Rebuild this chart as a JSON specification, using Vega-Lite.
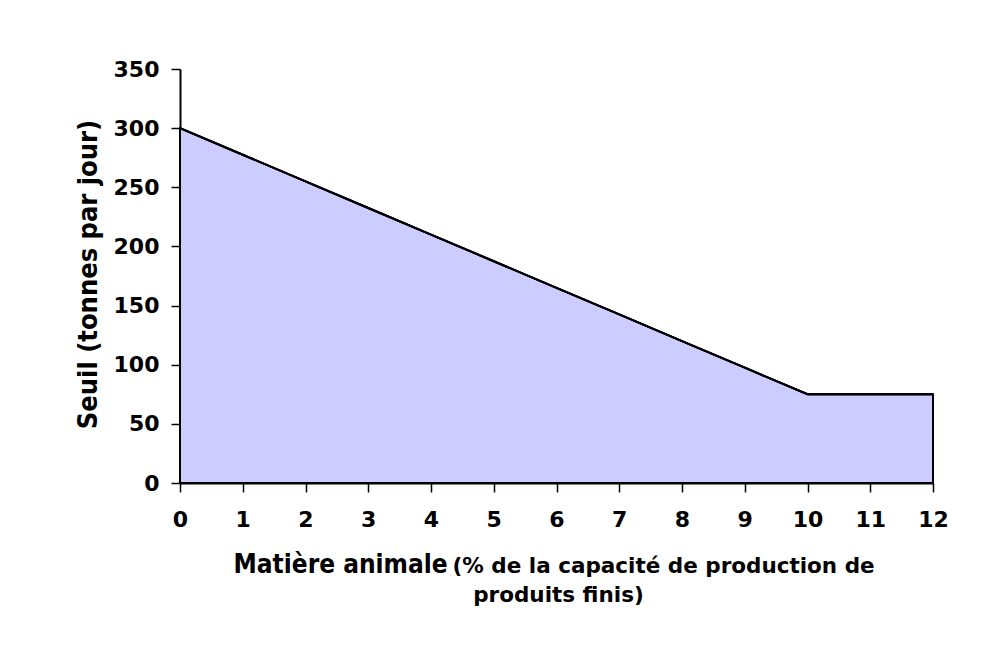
{
  "$schema": "https://vega.github.io/schema/vega-lite/v6.json",
  "width": 753,
  "height": 414,
  "autosize": {"type": "none"},
  "padding": {"left": 180, "top": 69, "right": 56, "bottom": 167},
  "background": "white",
  "config": {
    "font": "DejaVu Sans",
    "view": {"stroke": null},
    "axis": {"grid": false, "labelFontWeight": "bold", "titleFontWeight": "bold", "labelColor": "black", "titleColor": "black", "domainColor": "black", "tickColor": "black"}
  },
  "data": {
    "values": [
      {"x": 0, "y": 300}, {"x": 1, "y": 277.5}, {"x": 2, "y": 255}, {"x": 3, "y": 232.5},
      {"x": 4, "y": 210}, {"x": 5, "y": 187.5}, {"x": 6, "y": 165}, {"x": 7, "y": 142.5},
      {"x": 8, "y": 120}, {"x": 9, "y": 97.5}, {"x": 10, "y": 75}, {"x": 11, "y": 75}, {"x": 12, "y": 75}
    ]
  },
  "resolve": {"scale": {"x": "independent"}, "axis": {"x": "independent"}},
  "layer": [
    {
      "mark": {"type": "area", "fill": "#CCCCFF", "stroke": "black", "strokeWidth": 2, "fillOpacity": 1},
      "encoding": {
        "x": {"field": "x", "type": "quantitative", "scale": {"domain": [0, 12], "nice": false},
          "axis": {"orient": "bottom", "values": [0,1,2,3,4,5,6,7,8,9,10,11,12], "tickSize": 9, "tickWidth": 1.5, "domainWidth": 2,
            "labelFontSize": 22, "labelPadding": 17, "labelFlush": false,
            "title": "Matière animale", "titleFont": "DejaVu Sans Condensed, DejaVu Sans", "titleFontSize": 26, "titleX": 53, "titleY": 89, "titleAlign": "left", "titleAnchor": null, "titleBaseline": "alphabetic"}},
        "y": {"field": "y", "type": "quantitative", "scale": {"domain": [0, 350], "nice": false},
          "axis": {"values": [0,50,100,150,200,250,300,350], "tickSize": 9, "tickWidth": 1.5, "domainWidth": 2,
            "labelFontSize": 22, "labelPadding": 12,
            "title": "Seuil (tonnes par jour)", "titleFont": "DejaVu Sans Condensed, DejaVu Sans", "titleFontSize": 27, "titleAngle": -90, "titleX": -92, "titleY": 205, "titleAlign": "center", "titleAnchor": null, "titleBaseline": "middle"}}
      }
    },
    {
      "mark": {"type": "line", "stroke": "black", "strokeWidth": 2},
      "encoding": {
        "x": {"field": "x", "type": "quantitative", "scale": {"domain": [0, 12], "nice": false},
          "axis": {"orient": "bottom", "domain": false, "ticks": false, "labels": false,
            "title": "(% de la capacité de production de", "titleFontSize": 21.5, "titleX": 272, "titleY": 89, "titleAlign": "left", "titleAnchor": null, "titleBaseline": "alphabetic"}},
        "y": {"field": "y", "type": "quantitative"}
      }
    },
    {
      "mark": {"type": "line", "stroke": "black", "strokeWidth": 2},
      "encoding": {
        "x": {"field": "x", "type": "quantitative", "scale": {"domain": [0, 12], "nice": false},
          "axis": {"orient": "bottom", "domain": false, "ticks": false, "labels": false,
            "title": "produits finis)", "titleFontSize": 21.5, "titleX": 378, "titleY": 118, "titleAlign": "center", "titleAnchor": null, "titleBaseline": "alphabetic"}},
        "y": {"field": "y", "type": "quantitative"}
      }
    }
  ]
}
